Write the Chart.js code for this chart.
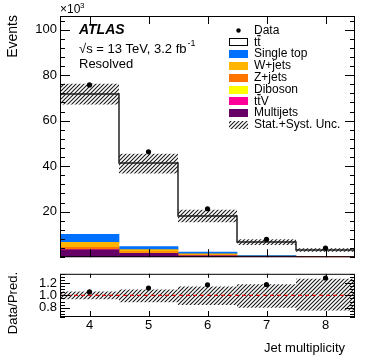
<!DOCTYPE html>
<html>
<head>
<meta charset="utf-8">
<script src="https://cdn.jsdelivr.net/npm/chart.js@4"></script>
<style>
  body { margin: 0; background: #fff; }
  #wrap { position: relative; width: 374px; height: 363px; background: #fff; }
  #wrap canvas { position: absolute; left: 0; }
  #main { top: 0; }
  #ratio { top: 263px; }
</style>
</head>
<body>
<div id="wrap">
  <canvas id="main" width="374" height="268"></canvas>
  <canvas id="ratio" width="374" height="100"></canvas>
</div>
<script>
// jet multiplicity bins (x10^3 events)
var bins = [4, 5, 6, 7, 8];
var data = [75.7, 46.3, 21.3, 7.8, 4.0];
var ttbar = [61.7, 36.7, 15.9, 5.8, 2.7];
var singleTop = [3.5, 1.4, 0.8, 0.3, 0.15];
var wjets = [2.2, 0.9, 0.5, 0.2, 0.1];
var zjets = [0.9, 0.6, 0.3, 0.1, 0.05];
var diboson = [0.1, 0.05, 0.03, 0.02, 0.01];
var ttV = [0.1, 0.05, 0.03, 0.02, 0.01];
var multijets = [3.2, 1.7, 0.6, 0.2, 0.1];
// relative stat+syst band (ratio panel)
var uncUp = [1.063, 1.097, 1.146, 1.18, 1.27];
var uncDown = [0.936, 0.888, 0.844, 0.80, 0.756];

var yTicks = [20, 40, 60, 80, 100];
var ratioTicks = [0.8, 1, 1.2];

var legendLabels = ['Data', 'tt\u0304', 'Single top', 'W+jets', 'Z+jets', 'Diboson', 'tt\u0304V', 'Multijets', 'Stat.+Syst. Unc.'];
var colors = {
  singleTop: '#0070ff', wjets: '#ffb400', zjets: '#ff7300',
  diboson: '#ffff00', ttV: '#ff0099', multijets: '#660066'
};

var FONT = "'Liberation Sans', Arial, sans-serif";

var total = bins.map(function(b, i) {
  return ttbar[i] + singleTop[i] + wjets[i] + zjets[i] + diboson[i] + ttV[i] + multijets[i];
});
var ratio = data.map(function(d, i) { return d / total[i]; });

function pts(vals) {
  return bins.map(function(b, i) { return {x: b, y: vals[i]}; });
}
// step-histogram points at bin left edges plus last right edge
function steps(vals) {
  var p = bins.map(function(b, i) { return {x: b - 0.5, y: vals[i]}; });
  p.push({x: bins[bins.length - 1] + 0.5, y: vals[vals.length - 1]});
  return p;
}

function hatch(ctx) {
  var c = document.createElement('canvas');
  c.width = 4; c.height = 4;
  var g = c.getContext('2d');
  g.strokeStyle = '#1a1a1a';
  g.lineWidth = 1.1;
  g.beginPath();
  g.moveTo(0, 4); g.lineTo(4, 0);
  g.moveTo(-1, 1); g.lineTo(1, -1);
  g.moveTo(3, 5); g.lineTo(5, 3);
  g.stroke();
  return ctx.createPattern(c, 'repeat');
}

var mainCtx = document.getElementById('main').getContext('2d');
var ratioCtx = document.getElementById('ratio').getContext('2d');
var hatchMain = hatch(mainCtx);
var hatchRatio = hatch(ratioCtx);

// inward ROOT style ticks + frame
var frameTicks = {
  id: 'frameTicks',
  afterDatasetsDraw: function(chart, args, o) {
    var ctx = chart.ctx, a = chart.chartArea, x = chart.scales.x, y = chart.scales.y;
    ctx.save();
    ctx.strokeStyle = '#000';
    ctx.lineWidth = 1;
    ctx.beginPath();
    function yt(v, len) {
      var p = Math.round(y.getPixelForValue(v)) + 0.5;
      ctx.moveTo(a.left, p); ctx.lineTo(a.left + len, p);
      ctx.moveTo(a.right, p); ctx.lineTo(a.right - len, p);
    }
    o.yMajor.forEach(function(v) { yt(v, o.yMajorLen); });
    for (var v = o.yMinorStart; v < o.yMinorEnd; v += o.yMinorStep) {
      var isMajor = o.yMajor.some(function(m) { return Math.abs(m - v) < 1e-6; });
      if (!isMajor) yt(v, o.yMinorLen);
    }
    bins.forEach(function(b) {
      var p = Math.round(x.getPixelForValue(b)) + 0.5;
      ctx.moveTo(p, a.bottom); ctx.lineTo(p, a.bottom - o.xLen);
      ctx.moveTo(p, a.top); ctx.lineTo(p, a.top + o.xTopLen);
    });
    ctx.stroke();
    ctx.strokeRect(a.left + 0.5, a.top + 0.5, a.right - a.left - 1, a.bottom - a.top - 1);
    ctx.restore();
  }
};

// label text plus a drawn bar over the anti-top "t"
function ttLabel(ctx, lab, x, y) {
  ctx.fillText(lab, x, y);
  var w1 = ctx.measureText('t').width;
  ctx.save();
  ctx.strokeStyle = '#000';
  ctx.lineWidth = 1;
  ctx.beginPath();
  ctx.moveTo(x + w1 + 0.3, y - 6.5);
  ctx.lineTo(x + 2 * w1, y - 6.5);
  ctx.stroke();
  ctx.restore();
}

var mainText = {
  id: 'mainText',
  afterDraw: function(chart) {
    var ctx = chart.ctx;
    ctx.save();
    ctx.fillStyle = '#000';
    ctx.textBaseline = 'middle';
    // axis title
    ctx.save();
    ctx.translate(13, 15);
    ctx.rotate(-Math.PI / 2);
    ctx.textAlign = 'right';
    ctx.font = '14px ' + FONT;
    ctx.fillText('Events', 0, 0);
    ctx.restore();
    ctx.textAlign = 'left';
    ctx.font = '12px ' + FONT;
    ctx.fillText('\u00d710', 60, 10);
    ctx.font = '8px ' + FONT;
    ctx.fillText('3', 80, 6);
    // ATLAS label
    ctx.font = 'italic bold 14px ' + FONT;
    ctx.fillText('ATLAS', 79, 30);
    ctx.font = '13px ' + FONT;
    var s = '\u221as = 13 TeV, 3.2 fb';
    ctx.fillText(s, 79, 49);
    var w = ctx.measureText(s).width;
    ctx.font = '9px ' + FONT;
    ctx.fillText('-1', 79 + w + 1, 44);
    ctx.font = '13px ' + FONT;
    ctx.fillText('Resolved', 79, 64);
    // legend
    var y0 = 30.5, dy = 11.8, bx = 229, bw = 19, bh = 8;
    var fills = [null, '#fff', colors.singleTop, colors.wjets, colors.zjets, colors.diboson, colors.ttV, colors.multijets, hatchMain];
    ctx.font = '12px ' + FONT;
    legendLabels.forEach(function(lab, i) {
      var yy = y0 + i * dy;
      if (i === 0) {
        ctx.beginPath();
        ctx.arc(bx + bw / 2, yy, 2.2, 0, Math.PI * 2);
        ctx.fill();
      } else {
        ctx.fillStyle = fills[i];
        ctx.fillRect(bx, Math.round(yy - bh / 2), bw, bh);
        if (i === 1) {
          ctx.strokeStyle = '#000';
          ctx.lineWidth = 1;
          ctx.strokeRect(bx + 0.5, Math.round(yy - bh / 2) + 0.5, bw - 1, bh - 1);
        }
      }
      ctx.fillStyle = '#000';
      if (lab.indexOf('\u0304') >= 0) ttLabel(ctx, lab, 254, yy);
      else ctx.fillText(lab, 254, yy);
    });
    ctx.restore();
  }
};

var ratioText = {
  id: 'ratioText',
  afterDraw: function(chart) {
    var ctx = chart.ctx;
    ctx.save();
    ctx.fillStyle = '#000';
    ctx.textBaseline = 'middle';
    ctx.font = '13px ' + FONT;
    ctx.save();
    ctx.translate(13, 9);
    ctx.rotate(-Math.PI / 2);
    ctx.textAlign = 'right';
    ctx.fillText('Data/Pred.', 0, 0);
    ctx.restore();
    ctx.textAlign = 'right';
    ctx.fillText('Jet multiplicity', 345, 85);
    ctx.restore();
  }
};

function barSet(label, vals, color) {
  return {type: 'bar', label: label, data: pts(vals), backgroundColor: color,
          borderWidth: 0, stack: 'mc', barPercentage: 1, categoryPercentage: 1};
}

new Chart(mainCtx, {
  type: 'bar',
  data: {
    datasets: [
      {type: 'line', label: 'Data', data: pts(data), showLine: false, stack: 's1',
       pointRadius: 2.6, pointBackgroundColor: '#000', pointBorderWidth: 0},
      {type: 'line', label: 'unc up', data: steps(total.map(function(t, i) { return t * uncUp[i]; })),
       stepped: 'before', borderColor: 'rgba(0,0,0,0)', pointRadius: 0, fill: '+1',
       backgroundColor: hatchMain, stack: 's2'},
      {type: 'line', label: 'unc down', data: steps(total.map(function(t, i) { return t * uncDown[i]; })),
       stepped: 'before', borderColor: 'rgba(0,0,0,0)', pointRadius: 0, fill: false, stack: 's3'},
      {type: 'line', label: 'total', data: steps(total), stepped: 'before', borderColor: '#222',
       borderWidth: 1.5, pointRadius: 0, fill: false, stack: 's4'},
      barSet('Multijets', multijets, colors.multijets),
      barSet('ttV', ttV, colors.ttV),
      barSet('Diboson', diboson, colors.diboson),
      barSet('Z+jets', zjets, colors.zjets),
      barSet('W+jets', wjets, colors.wjets),
      barSet('Single top', singleTop, colors.singleTop),
      barSet('ttbar', ttbar, '#fff')
    ]
  },
  options: {
    responsive: false,
    animation: false,
    events: [],
    layout: {padding: {left: 0, right: 19, top: 16, bottom: 0}},
    plugins: {
      legend: {display: false},
      tooltip: {enabled: false},
      frameTicks: {yMajor: yTicks, yMajorLen: 10, yMinorLen: 5, yMinorStart: 0, yMinorEnd: 106, yMinorStep: 4, xLen: 8, xTopLen: 8}
    },
    scales: {
      x: {
        type: 'linear', min: 3.5, max: 8.5, offset: false, stacked: true,
        afterBuildTicks: function(s) { s.ticks = bins.map(function(b) { return {value: b}; }); },
        afterFit: function(s) { s.height = 5; },
        ticks: {display: false},
        grid: {display: false, drawTicks: false},
        border: {display: false}
      },
      y: {
        type: 'linear', min: 0, max: 106, stacked: true,
        afterBuildTicks: function(s) { s.ticks = yTicks.map(function(v) { return {value: v}; }); },
        afterFit: function(s) { s.width = 60; },
        ticks: {color: '#000', font: {family: FONT, size: 13}, padding: 3},
        grid: {display: false, drawTicks: false},
        border: {display: false}
      }
    }
  },
  plugins: [frameTicks, mainText]
});

new Chart(ratioCtx, {
  type: 'line',
  data: {
    datasets: [
      {label: 'Data/Pred.', data: pts(ratio), showLine: false, stack: 'r1',
       pointRadius: 2.6, pointBackgroundColor: '#000', pointBorderWidth: 0},
      {label: 'one', data: [{x: 3.5, y: 1}, {x: 8.5, y: 1}], borderColor: '#e41010',
       borderWidth: 1.3, borderDash: [4, 3], pointRadius: 0, fill: false, stack: 'r2'},
      {label: 'unc up', data: steps(uncUp), stepped: 'before', borderColor: 'rgba(0,0,0,0)',
       pointRadius: 0, fill: '+1', backgroundColor: hatchRatio, stack: 'r3'},
      {label: 'unc down', data: steps(uncDown), stepped: 'before', borderColor: 'rgba(0,0,0,0)',
       pointRadius: 0, fill: false, stack: 'r4'}
    ]
  },
  options: {
    responsive: false,
    animation: false,
    events: [],
    layout: {padding: {left: 0, right: 19, top: 7, bottom: 0}},
    plugins: {
      legend: {display: false},
      tooltip: {enabled: false},
      frameTicks: {yMajor: ratioTicks, yMajorLen: 10, yMinorLen: 5, yMinorStart: 0.65, yMinorEnd: 1.36, yMinorStep: 0.05, xLen: 6, xTopLen: 4}
    },
    scales: {
      x: {
        type: 'linear', min: 3.5, max: 8.5, offset: false,
        afterBuildTicks: function(s) { s.ticks = bins.map(function(b) { return {value: b}; }); },
        afterFit: function(s) { s.height = 46; },
        ticks: {color: '#000', font: {family: FONT, size: 13}, padding: 1},
        grid: {display: false, drawTicks: false},
        border: {display: false}
      },
      y: {
        type: 'linear', min: 0.65, max: 1.35,
        afterBuildTicks: function(s) { s.ticks = ratioTicks.map(function(v) { return {value: v}; }); },
        afterFit: function(s) { s.width = 60; },
        ticks: {color: '#000', font: {family: FONT, size: 13}, padding: 3},
        grid: {display: false, drawTicks: false},
        border: {display: false}
      }
    }
  },
  plugins: [frameTicks, ratioText]
});
</script>
</body>
</html>
